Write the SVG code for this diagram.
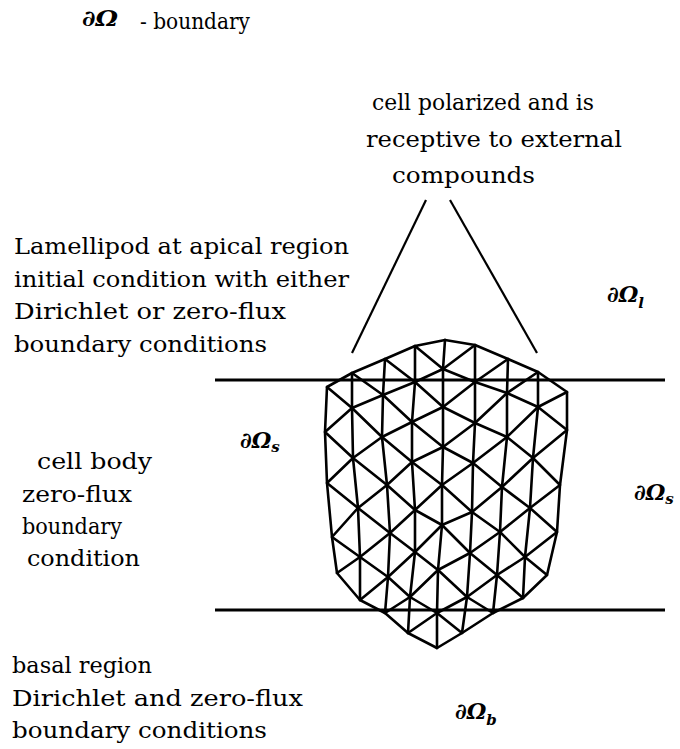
<svg xmlns="http://www.w3.org/2000/svg" width="680" height="749" viewBox="0 0 680 749">
  <style>
    .t { font-family: "DejaVu Serif", "Liberation Serif", serif; font-size: 22px; fill: #000; }
    .sym { font-family: "DejaVu Serif", "Liberation Serif", serif; font-size: 22px; font-style: italic; font-weight: bold; fill: #000; }
    .sub { font-size: 15px; }
    .mesh { fill: none; stroke: #000; stroke-width: 2.6; stroke-linejoin: round; stroke-linecap: round; }
    .rule { stroke: #000; stroke-width: 3; }
    .ray { stroke: #000; stroke-width: 2.2; }
  </style>

  <rect width="680" height="749" fill="#fff"/>

  <!-- legend -->
  <g id="legend">
    <text class="sym" x="82" y="26" textLength="36" lengthAdjust="spacingAndGlyphs">∂Ω</text>
    <text class="t" x="140" y="29" font-size="20" textLength="110" lengthAdjust="spacingAndGlyphs">- boundary</text>
  </g>

  <!-- apical note -->
  <g id="note-polarized">
    <text class="t" x="372" y="110" textLength="222" lengthAdjust="spacingAndGlyphs">cell polarized and is</text>
    <text class="t" x="366" y="147" textLength="256" lengthAdjust="spacingAndGlyphs">receptive to external</text>
    <text class="t" x="392" y="183" textLength="143" lengthAdjust="spacingAndGlyphs">compounds</text>
  </g>

  <g id="note-lamellipod">
    <text class="t" x="14" y="254" textLength="335" lengthAdjust="spacingAndGlyphs">Lamellipod at apical region</text>
    <text class="t" x="14" y="287" textLength="335" lengthAdjust="spacingAndGlyphs">initial condition with either</text>
    <text class="t" x="14" y="319" textLength="272" lengthAdjust="spacingAndGlyphs">Dirichlet or zero-flux</text>
    <text class="t" x="14" y="352" textLength="253" lengthAdjust="spacingAndGlyphs">boundary conditions</text>
  </g>

  <g id="note-body">
    <text class="t" x="37" y="469" textLength="115" lengthAdjust="spacingAndGlyphs">cell body</text>
    <text class="t" x="22" y="502" textLength="110" lengthAdjust="spacingAndGlyphs">zero-flux</text>
    <text class="t" x="22" y="534" textLength="100" lengthAdjust="spacingAndGlyphs">boundary</text>
    <text class="t" x="27" y="566" textLength="113" lengthAdjust="spacingAndGlyphs">condition</text>
  </g>

  <g id="note-basal">
    <text class="t" x="12" y="673" textLength="140" lengthAdjust="spacingAndGlyphs">basal region</text>
    <text class="t" x="12" y="706" textLength="291" lengthAdjust="spacingAndGlyphs">Dirichlet and zero-flux</text>
    <text class="t" x="12" y="738" textLength="255" lengthAdjust="spacingAndGlyphs">boundary conditions</text>
  </g>

  <!-- boundary labels -->
  <g id="label-l"><text class="sym" x="607" y="302">∂Ω<tspan class="sub" dy="6">l</tspan></text></g>
  <g id="label-s-left"><text class="sym" x="240" y="448">∂Ω<tspan class="sub" dy="4">s</tspan></text></g>
  <g id="label-s-right"><text class="sym" x="634" y="500">∂Ω<tspan class="sub" dy="4">s</tspan></text></g>
  <g id="label-b"><text class="sym" x="455" y="719">∂Ω<tspan class="sub" dy="6">b</tspan></text></g>

  <!-- connectors: region rules and the two rays to the note -->
  <g id="connectors">
    <line class="rule" x1="215" y1="380" x2="665" y2="380"/>
    <line class="rule" x1="215" y1="610" x2="665" y2="610"/>
    <line class="ray" x1="426" y1="200" x2="352" y2="353"/>
    <line class="ray" x1="450" y1="200" x2="537" y2="353"/>
  </g>

  <!-- triangulated cell -->
  <g id="cell" class="mesh">
    <!-- columns, left to right -->
    <polyline points="327,387 325,432 327,483 332,537 337,573"/>
    <polyline points="352,373 352,408 353,458 358,508 360,557 360,600"/>
    <polyline points="385,359 383,395 382,437 387,485 390,533 388,577 385,613"/>
    <polyline points="415,346 415,382 412,422 412,462 415,510 415,552 410,597 408,633"/>
    <polyline points="445,340 443,369 443,407 443,447 442,485 442,525 438,570 437,613 437,648"/>
    <polyline points="475,345 475,382 475,423 473,463 472,512 470,553 467,597 462,633"/>
    <polyline points="508,359 507,393 507,437 502,487 500,532 497,575 493,613"/>
    <polyline points="538,372 538,407 533,458 530,508 525,557 523,598"/>
    <polyline points="567,392 567,430 560,485 557,532 547,575"/>
    <!-- zigzags between neighbouring columns -->
    <polyline points="352,373 327,387 352,408 325,432 353,458 327,483 358,508 332,537 360,557 337,573 360,600"/>
    <polyline points="385,359 352,373 383,395 352,408 382,437 353,458 387,485 358,508 390,533 360,557 388,577 360,600 385,613"/>
    <polyline points="415,346 385,359 415,382 383,395 412,422 382,437 412,462 387,485 415,510 390,533 415,552 388,577 410,597 385,613 408,633"/>
    <polyline points="445,340 415,346 443,369 415,382 443,407 412,422 443,447 412,462 442,485 415,510 442,525 415,552 438,570 410,597 437,613 408,633 437,648"/>
    <polyline points="445,340 475,345 443,369 475,382 443,407 475,423 443,447 473,463 442,485 472,512 442,525 470,553 438,570 467,597 437,613 462,633 437,648"/>
    <polyline points="475,345 508,359 475,382 507,393 475,423 507,437 473,463 502,487 472,512 500,532 470,553 497,575 467,597 493,613 462,633"/>
    <polyline points="508,359 538,372 507,393 538,407 507,437 533,458 502,487 530,508 500,532 525,557 497,575 523,598 493,613"/>
    <polyline points="538,372 567,392 538,407 567,430 533,458 560,485 530,508 557,532 525,557 547,575 523,598"/>
  </g>
</svg>
